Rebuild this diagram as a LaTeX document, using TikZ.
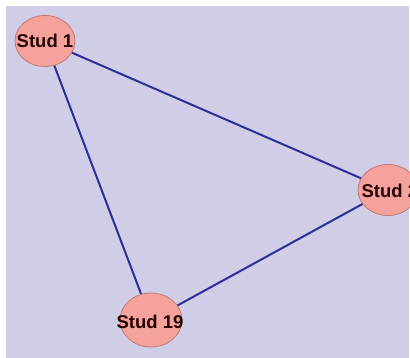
\documentclass[tikz,border=0pt]{standalone}
\usepackage{fontspec}
\setmainfont{Liberation Sans}
\usetikzlibrary{shapes.geometric}
\definecolor{bg}{HTML}{D0CEE6}
\definecolor{nodefill}{HTML}{F6A29C}
\definecolor{nodeline}{HTML}{C07878}
\definecolor{edgecol}{HTML}{2E2E9A}
\begin{document}
\begin{tikzpicture}[x=1pt,y=-1pt,
  stud/.style={ellipse,draw=nodeline,line width=0.8pt,fill=nodefill,minimum width=60pt,minimum height=51pt,inner sep=0pt},
  studtext/.style={font=\bfseries\fontsize{18.5}{20}\selectfont,text=black!85!red},
  edge/.style={draw=edgecol,line width=2pt}]
\useasboundingbox (0,0) rectangle (410,358);
\fill[white] (0,0) rectangle (410,358);
\begin{scope}
\clip (0,0) rectangle (410,358);
\fill[bg] (6,6) rectangle (409,358);
\coordinate (c1) at (45,41);
\coordinate (c2) at (388,190);
\coordinate (c19) at (151,320);
\draw[edge] (c1) -- (c2);
\draw[edge] (c1) -- (c19);
\draw[edge] (c19) -- (c2);
\node[stud] (n1) at (c1) {};
\node[stud] (n2) at (c2) {};
\node[stud,minimum width=62pt,minimum height=54pt] (n19) at (c19) {};
\node[studtext] (t1) at (c1) {Stud 1};
\node[studtext,anchor=west] (t2) at (358,191) {Stud 2};
\node[studtext] (t19) at (150,322) {Stud 19};
\end{scope}
\end{tikzpicture}
\end{document}
